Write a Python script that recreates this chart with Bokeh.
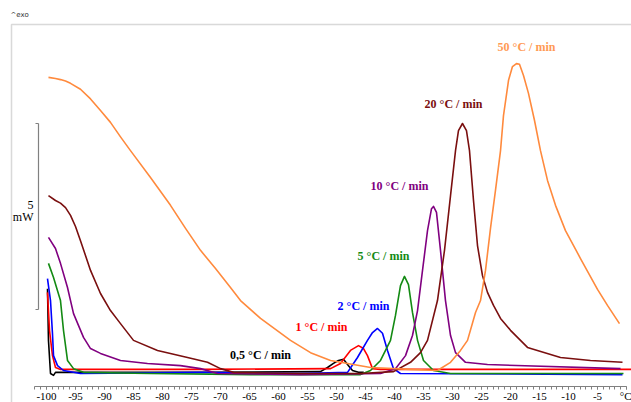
from bokeh.plotting import figure
from bokeh.models import Range1d, BoxAnnotation, Label, FixedTicker, LinearAxis
from bokeh.embed import file_html
from bokeh.resources import INLINE

# ---- data: temperature (°C) and heat flow (mW, exo up) ----
t_05 = [-99.83, -99.66, -99.31, -98.79, -98.45, -73.45, -52.76, -51.55, -50.52, -49.66, -48.79, -47.93, -47.24, -46.21, -45.3]
q_05 = [2.20, 0.81, -0.08, -0.13, -0.05, -0.05, -0.03, 0.08, 0.19, 0.27, 0.30, 0.13, 0.0, -0.05, -0.05]

t_1 = [-99.83, -99.48, -98.97, -98.45, -97.59, -73.45, -51.03, -49.31, -47.59, -46.21, -45.34, -44.66, -43.79, -42.41, 1.0]
q_1 = [2.10, 1.08, 0.40, 0.08, 0.03, 0.03, 0.05, 0.19, 0.54, 0.67, 0.59, 0.40, 0.05, 0.03, 0.03]

t_2 = [-99.83, -99.31, -98.97, -98.79, -98.10, -97.07, -94.14, -73.45, -56.21, -48.10, -46.38, -44.66, -43.79, -42.93, -42.07, -41.21, -40.17, -38.97, -0.69]
q_2 = [2.47, 1.88, 0.99, 0.40, 0.13, 0.0, -0.08, -0.05, -0.08, -0.05, 0.35, 0.81, 1.02, 1.13, 1.0, 0.54, 0.05, -0.08, -0.11]

t_5 = [-99.66, -98.79, -97.59, -97.07, -96.38, -95.34, -93.62, -82.07, -64.83, -45.86, -44.14, -42.41, -40.69, -39.83, -38.97, -38.28, -37.59, -36.90, -36.03, -35.0, -33.28, -30.34, -0.52]
q_5 = [2.88, 2.50, 1.88, 1.08, 0.27, 0.05, -0.05, -0.08, -0.11, -0.11, 0.0, 0.27, 0.81, 1.48, 2.28, 2.53, 2.31, 1.56, 0.81, 0.27, 0.0, -0.08, -0.08]

t_10 = [-99.66, -98.45, -97.59, -96.38, -95.34, -93.62, -92.41, -90.69, -87.24, -82.59, -76.90, -73.45, -70.52, -56.21, -42.41, -39.83, -38.10, -36.90, -36.03, -35.17, -34.31, -33.62, -33.28, -32.76, -32.07, -31.21, -30.34, -29.48, -27.76, -23.97, -1.03]
q_10 = [3.58, 3.28, 2.88, 2.23, 1.53, 0.89, 0.59, 0.46, 0.27, 0.19, 0.13, 0.05, -0.08, -0.11, -0.08, 0.05, 0.40, 0.94, 1.61, 2.69, 3.76, 4.35, 4.41, 4.25, 3.23, 1.88, 0.94, 0.48, 0.22, 0.16, 0.05]

t_20 = [-99.66, -98.45, -97.59, -96.72, -95.86, -95.0, -94.14, -92.41, -90.69, -88.97, -87.24, -85.0, -80.86, -75.69, -72.24, -70.0, -67.76, -56.21, -45.86, -40.17, -37.24, -35.52, -34.31, -32.59, -31.38, -30.34, -29.48, -28.97, -28.28, -27.59, -27.07, -26.38, -25.69, -24.83, -23.97, -22.93, -21.72, -20.0, -17.07, -11.38, -6.21, -0.69]
q_20 = [4.70, 4.57, 4.50, 4.38, 4.17, 3.87, 3.49, 2.69, 2.07, 1.61, 1.26, 0.81, 0.54, 0.35, 0.22, 0.05, -0.05, -0.08, -0.08, -0.03, 0.22, 0.48, 0.81, 1.88, 3.23, 4.70, 5.91, 6.45, 6.64, 6.45, 5.91, 4.57, 3.36, 2.55, 2.10, 1.75, 1.40, 1.08, 0.62, 0.35, 0.27, 0.22]

t_50 = [-99.66, -98.45, -97.59, -96.72, -95.86, -94.14, -92.41, -90.69, -88.97, -87.24, -85.52, -82.07, -78.62, -76.03, -73.45, -70.86, -68.28, -66.55, -63.10, -57.93, -54.48, -51.03, -44.14, -37.24, -32.59, -30.34, -28.62, -27.41, -26.03, -25.17, -24.31, -23.45, -22.59, -21.72, -21.21, -20.34, -19.66, -18.97, -18.45, -17.76, -16.90, -15.86, -14.83, -13.62, -12.24, -10.52, -7.93, -5.0, -3.28, -1.21]
q_50 = [7.88, 7.85, 7.82, 7.78, 7.72, 7.56, 7.30, 6.99, 6.67, 6.28, 5.91, 5.19, 4.44, 3.82, 3.23, 2.74, 2.23, 1.88, 1.40, 0.81, 0.48, 0.27, 0.08, 0.03, 0.0, 0.22, 0.54, 0.81, 1.56, 1.88, 2.69, 3.82, 4.84, 5.91, 6.85, 7.80, 8.17, 8.25, 8.23, 7.93, 7.45, 6.72, 5.91, 5.11, 4.44, 3.76, 3.01, 2.18, 1.75, 1.26]

series_names = ["0,5 °C / min", "1 °C / min", "2 °C / min", "5 °C / min", "10 °C / min", "20 °C / min", "50 °C / min"]
series_t = [t_05, t_1, t_2, t_5, t_10, t_20, t_50]
series_q = [q_05, q_1, q_2, q_5, q_10, q_20, q_50]
series_colors = ["#000000", "#ff0000", "#0000ff", "#138a13", "#800080", "#7a0f0f", "#ff8a3d"]
label_colors = ["#000000", "#ff0000", "#0000ff", "#138a13", "#800080", "#7a0f0f", "#ff9a55"]

x_ticks = list(range(-100, 1, 5))
x_tick_labels = {t: str(t) for t in x_ticks}
x_tick_labels[0] = "°C"

scale_mw = 5          # length of the scale bar, mW
scale_bottom = 1.64   # mW, lower end of the scale bar

# ---- layout constants ----
W, H = 631, 402
FRAME_H = 402
PX_PER_C = 5.8
PX_PER_MW = 37.2
X0_PX = 46          # pixel of -100 °C
Y0_PX = 370         # pixel of 0 mW

x_start = -100 - X0_PX / PX_PER_C
x_end = -100 + (W - X0_PX) / PX_PER_C
y_end = Y0_PX / PX_PER_MW
y_start = -(FRAME_H - Y0_PX) / PX_PER_MW

def xpx(px):
    return -100 + (px - X0_PX) / PX_PER_C

def ypx(py):
    return (Y0_PX - py) / PX_PER_MW

p = figure(width=W, height=H, output_backend="svg", toolbar_location=None,
           x_range=Range1d(x_start, x_end), y_range=Range1d(y_start, y_end),
           min_border_left=0, min_border_right=0, min_border_top=0, min_border_bottom=0,
           x_axis_location=None, y_axis_location=None)
p.outline_line_color = None
p.grid.visible = False
p.background_fill_color = "white"
p.border_fill_color = "white"

xaxis = LinearAxis(ticker=FixedTicker(ticks=x_ticks, minor_ticks=list(range(-102, 1))),
                   major_label_overrides=x_tick_labels, bounds=(-102, 0),
                   fixed_location=ypx(386))
xaxis.axis_line_color = "#808080"
xaxis.major_tick_line_color = "#808080"
xaxis.minor_tick_line_color = "#808080"
xaxis.major_tick_in = 0
xaxis.major_tick_out = 3
xaxis.minor_tick_in = 0
xaxis.minor_tick_out = 3
xaxis.major_label_standoff = 0
xaxis.major_label_text_font = "Liberation Serif"
xaxis.major_label_text_font_size = "11px"
xaxis.major_label_text_color = "#000000"
p.add_layout(xaxis, "below")

# frame box (left and top edges visible)
p.add_layout(BoxAnnotation(left=xpx(11), top=ypx(24), right=x_end + 50, bottom=y_start - 50,
                           fill_alpha=0, line_color="#808080", line_width=1.5))

# curves
for t, q, c in zip(series_t, series_q, series_colors):
    p.line(t, q, line_color=c, line_width=1.6, line_join="round")

# scale bar
sb_x = xpx(38)
tick_len = 3 / PX_PER_C
p.segment(x0=[sb_x, sb_x - tick_len, sb_x - tick_len], y0=[scale_bottom, scale_bottom, scale_bottom + scale_mw],
          x1=[sb_x, sb_x, sb_x], y1=[scale_bottom + scale_mw, scale_bottom, scale_bottom + scale_mw],
          line_color="#808080", line_width=1.2)
p.add_layout(Label(x=xpx(33), y=ypx(204), text=str(scale_mw), text_align="right", text_baseline="middle",
                   text_font="Liberation Serif", text_font_size="12px", text_color="#000000"))
p.add_layout(Label(x=xpx(33), y=ypx(216), text="mW", text_align="right", text_baseline="middle",
                   text_font="Liberation Serif", text_font_size="12px", text_color="#000000"))

# exo marker
p.add_layout(Label(x=xpx(10), y=ypx(14), text="^exo", text_align="left", text_baseline="middle",
                   text_font="DejaVu Sans", text_font_size="7px", text_color="#333333"))

# curve labels
label_px = [(260, 354), (321, 326), (363, 305), (383, 255), (399, 185), (453, 103), (526, 46)]
for name, col, (lx, ly) in zip(series_names, label_colors, label_px):
    p.add_layout(Label(x=xpx(lx), y=ypx(ly), text=name, text_align="center", text_baseline="middle",
                       text_font="Liberation Serif", text_font_style="bold", text_font_size="12px",
                       text_color=col))

open("out.html", "w").write(file_html(p, INLINE))
